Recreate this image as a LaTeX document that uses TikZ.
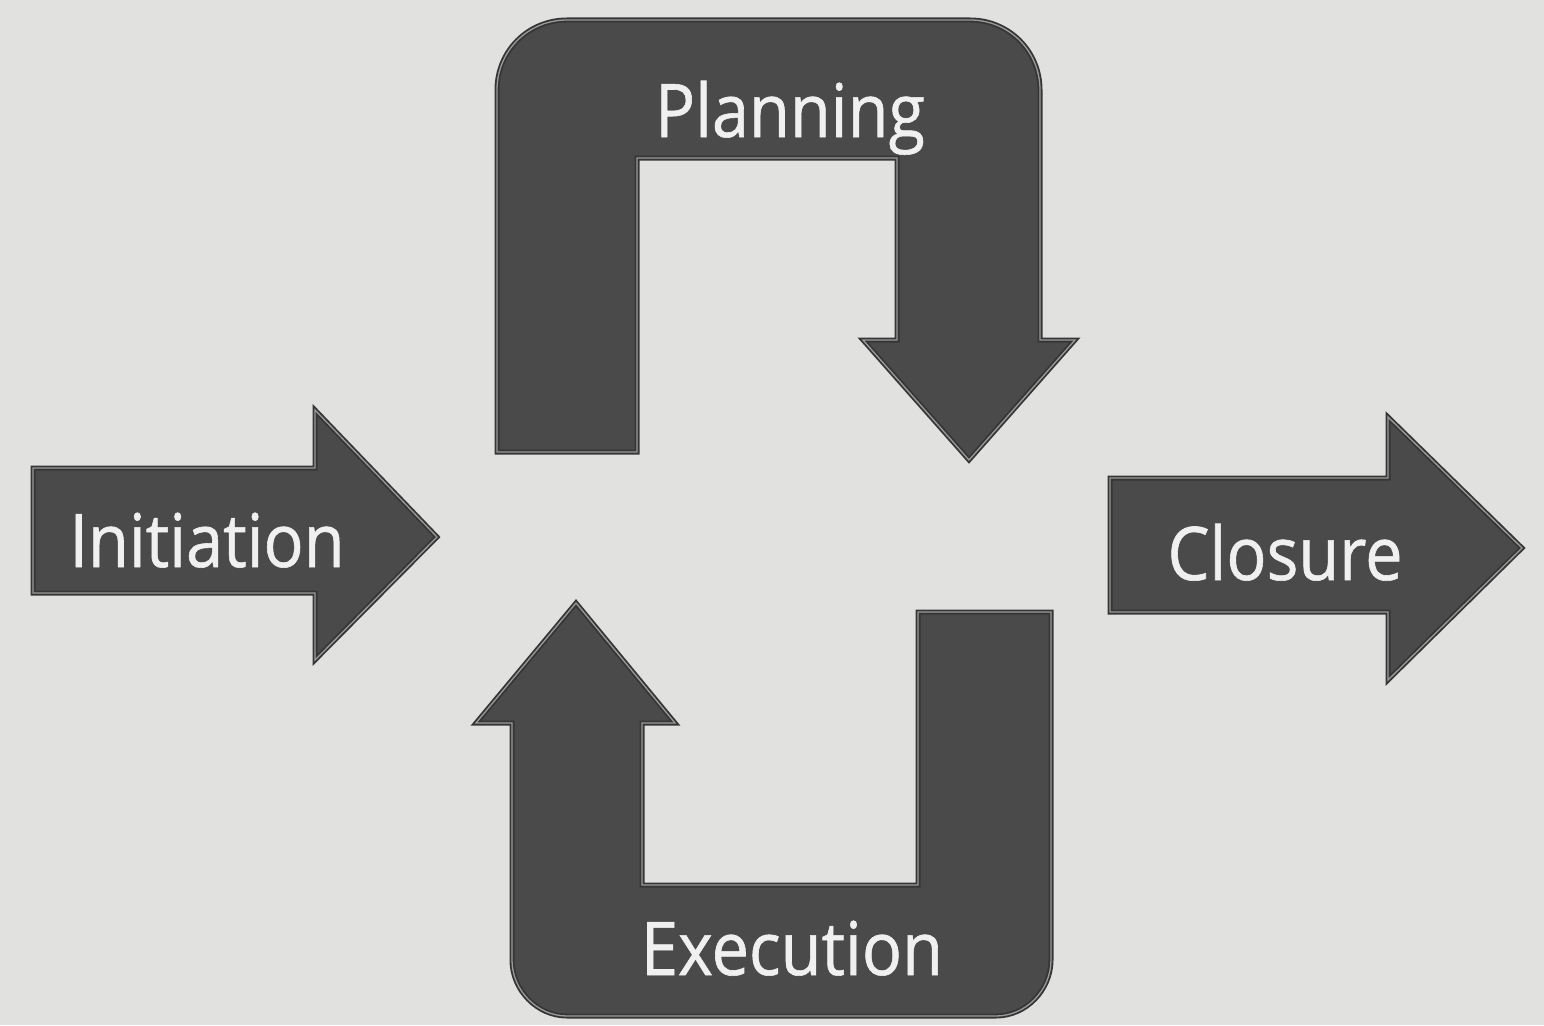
\documentclass[tikz,border=0pt]{standalone}
\usepackage{fontspec}
\setmainfont{Open Sans}
\newfontfamily\lblfont[FakeStretch=0.9,FakeBold=0.8]{Open Sans}
\definecolor{bgc}{HTML}{E1E1DF}
\definecolor{arrowfill}{HTML}{4A4A4A}
\definecolor{edgedark}{HTML}{363636}
\definecolor{edgelight}{HTML}{9A9A9A}
\tikzset{
  shapebody/.style={fill=arrowfill, draw=edgedark, line width=5pt, line join=miter},
  shapeedge/.style={draw=edgelight, line width=1.3pt, line join=miter},
  labeltext/.style={text=white!94!black, anchor=base, inner sep=0pt,
    font=\lblfont\fontsize{74}{80}\selectfont}
}
\begin{document}
\begin{tikzpicture}[x=1pt,y=-1pt]
\fill[bgc] (0,0) rectangle (1544,1025);
\useasboundingbox (0,0) rectangle (1544,1025);
% Initiation arrow
\def\initpath{(33,468) -- (315,468) -- (315,410) -- (437,537) -- (315,660) -- (315,593) -- (33,593) -- cycle}
\path[shapebody] \initpath;
\path[shapeedge] \initpath;
% Closure arrow
\def\clospath{(1110,478) -- (1388,478) -- (1388,417) -- (1522,548) -- (1388,680) -- (1388,612) -- (1110,612) -- cycle}
\path[shapebody] \clospath;
\path[shapeedge] \clospath;
% Planning U-turn arrow
\def\planpath{(497,452) -- (497,90) .. controls (497,51) and (528,20) .. (567,20) -- (970,20) .. controls (1009,20) and (1040,51) .. (1040,90) -- (1040,340) -- (1075,340) -- (969,460) -- (863,340) -- (897,340) -- (897,158) -- (637,158) -- (637,452) -- cycle}
\path[shapebody] \planpath;
\path[shapeedge] \planpath;
% Execution U-turn arrow
\def\execpath{(918,612) -- (1051,612) -- (1051,960) .. controls (1051,990) and (1026,1016) .. (996,1016) -- (567,1016) .. controls (537,1016) and (512,990) .. (512,960) -- (512,723) -- (476,723) -- (576,603) -- (675,723) -- (642,723) -- (642,885) -- (918,885) -- cycle}
\path[shapebody] \execpath;
\path[shapeedge] \execpath;
% Labels
\node[labeltext] (planning) at (790,137) {Planning};
\node[labeltext] (execution) at (792,975) {Execution};
\node[labeltext] (initiation) at (207,567) {Initiation};
\node[labeltext] (closure) at (1285,580) {Closure};
\end{tikzpicture}
\end{document}
